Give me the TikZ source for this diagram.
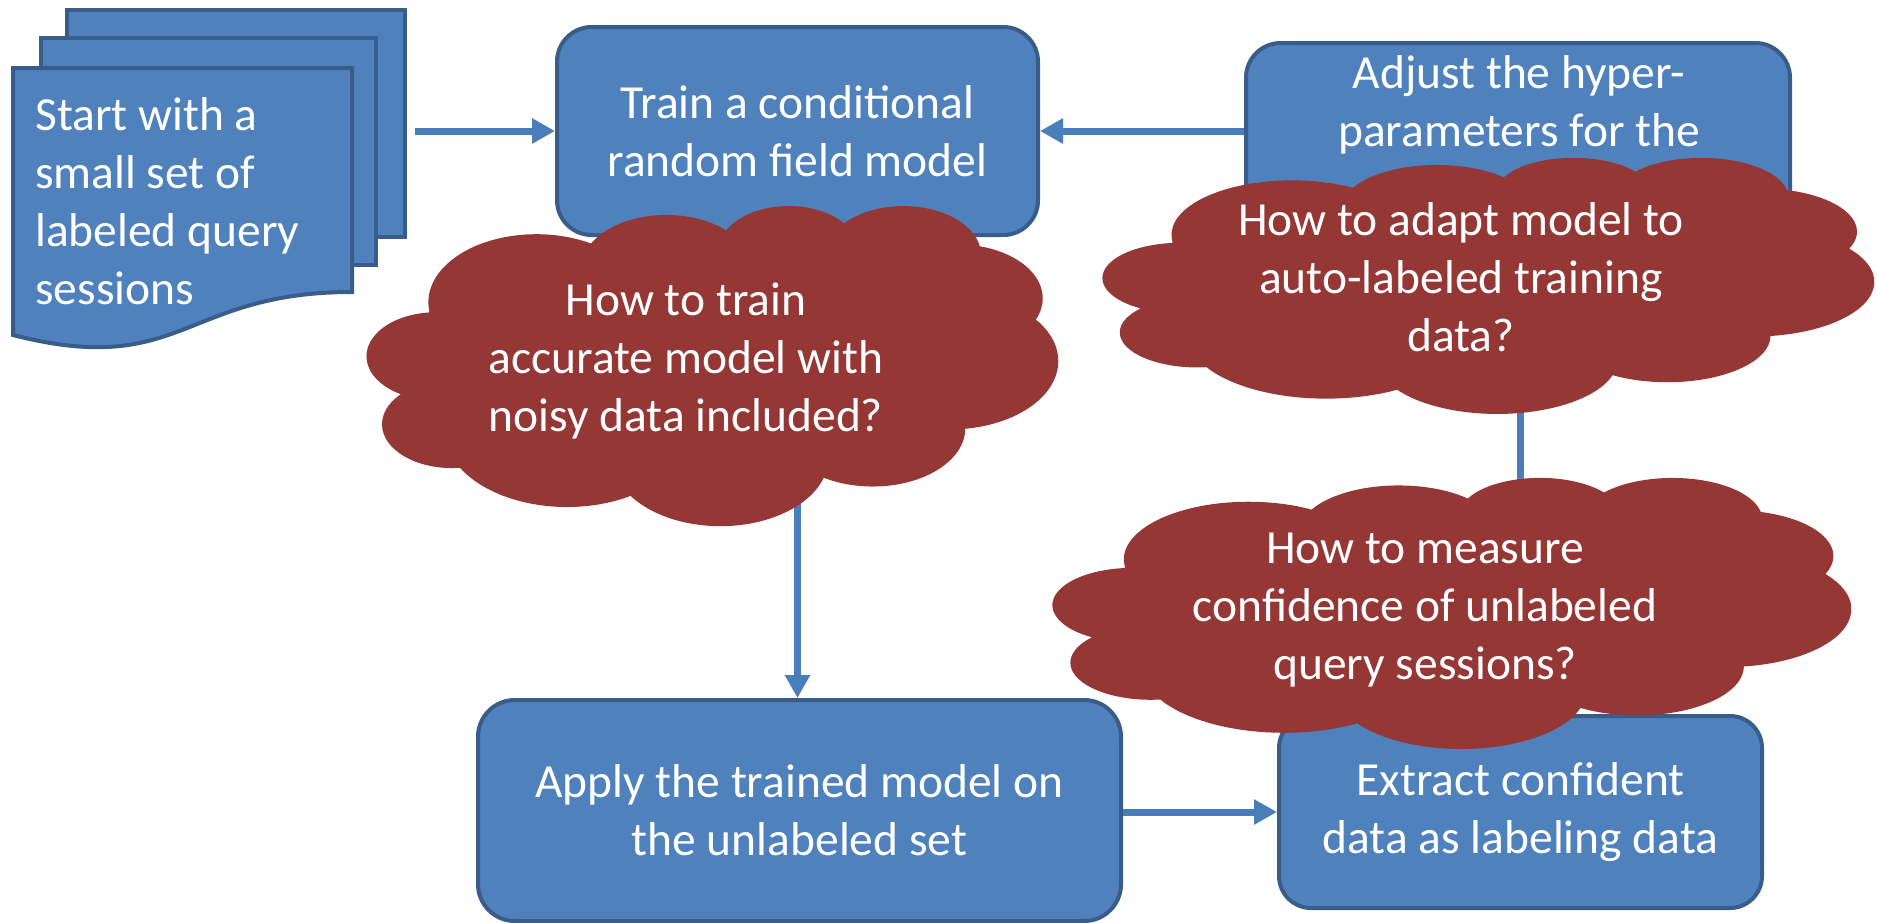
\documentclass[tikz,border=0pt]{standalone}
\usepackage{fontspec}
\setmainfont{Carlito}
\usetikzlibrary{arrows.meta}
\definecolor{boxfill}{HTML}{4F81BD}
\definecolor{boxline}{HTML}{385D8A}
\definecolor{arrowcol}{HTML}{4A7EBB}
\definecolor{cloudred}{HTML}{953735}
\newcommand\bigfont{\fontsize{47.5}{58}\selectfont}
% PowerPoint-style cloud: #1,#2 = top-left (px), #3,#4 = width/43.2, height/43.2
\newcommand\cloudat[4]{%
  \begin{scope}[shift={(#1pt,-#2pt)}, x=#3pt, y=-#4pt]
    \fill[cloudred] (3.9,14.37)
      arc[start angle=172.25, end angle=300.36, x radius=6.753, y radius=9.19]
      arc[start angle=-152.02, end angle=-45.45, x radius=5.333, y radius=7.267]
      arc[start angle=-153.49, end angle=-37.34, x radius=4.365, y radius=5.945]
      arc[start angle=-139.71, end angle=-10.21, x radius=4.857, y radius=6.595]
      arc[start angle=-74.77, end angle=23.21, x radius=5.333, y radius=7.273]
      arc[start angle=-37.54, end angle=81.86, x radius=6.775, y radius=9.22]
      arc[start angle=0.46, end angle=121.97, x radius=5.785, y radius=7.867]
      arc[start angle=16.84, end angle=146.22, x radius=6.752, y radius=9.215]
      arc[start angle=58.99, end angle=150.19, x radius=7.72, y radius=10.543]
      arc[start angle=83.31, end angle=223.10, x radius=4.36, y radius=5.918]
      arc[start angle=120.36, end angle=264.11, x radius=4.345, y radius=5.945]
      -- cycle;
  \end{scope}}
\begin{document}
\begin{tikzpicture}[x=1pt,y=-1pt,
  box/.style={draw=boxline, line width=4pt, fill=boxfill, text=white,
    align=center, font=\bigfont, inner sep=0pt},
  arr/.style={draw=arrowcol, line width=7pt, -{Triangle[length=23pt,width=24pt]}},
  page/.style={draw=boxline, line width=4pt, fill=boxfill},
  ctext/.style={text=white, align=center, font=\bigfont, inner sep=0pt, anchor=base}]
\useasboundingbox[fill=white] (0,0) rectangle (1877,922);

% multi-document
\draw[page] (67,10) rectangle (405,237);
\draw[page] (41,38) rectangle (376,265);
\draw[page] (13,68) -- (352,68) -- (352,292)
  .. controls (182.6,292) and (182.6,378.4) .. (13,335) -- cycle;
\node[anchor=base west, align=left, text=white, font=\bigfont, inner sep=0pt]
  (doc) at (35,304) {Start with a\\small set of\\labeled query\\sessions};

% process boxes
\node[box, rounded corners=34.7pt, minimum width=481pt, minimum height=208pt]
  (tr) at (797.5,131) {Train a conditional\\random field model};
\node[box, rounded corners=34.7pt, minimum width=544pt, minimum height=208pt]
  (adj) at (1518,147) {};
\node[ctext] (adjtext) at (1519,146) {Adjust the hyper-\\parameters for the};
\node[box, rounded corners=36.8pt, minimum width=643pt, minimum height=221pt]
  (ap) at (799.5,810.5) {Apply the trained model on\\the unlabeled set};
\node[box, rounded corners=32pt, minimum width=483pt, minimum height=192pt]
  (ex) at (1520.5,812) {Extract confident\\data as labeling data};

% connectors
\coordinate (docR) at (415,131);
\draw[arr] (docR) -- (tr.west);
\draw[arr] (adj.west |- tr.east) -- (tr.east);
\draw[arr] (tr.south) -- (tr.south |- ap.north);
\draw[arr] (ap.east |- ex.west) -- (ex.west);
\draw[arr] (ex.north) -- (ex.north |- adj.south);

% clouds
\cloudat{367}{205}{15.995}{7.407}
\cloudat{1103}{157}{17.847}{5.926}
\cloudat{1053}{477}{18.472}{6.273}
\node[ctext] (q1) at (686,431) {How to train\\accurate model with\\noisy data included?};
\node[ctext] (q2) at (1461,351) {How to adapt model to\\auto-labeled training\\data?};
\node[ctext] (q3) at (1425,679) {How to measure\\confidence of unlabeled\\query sessions?};
\end{tikzpicture}
\end{document}
